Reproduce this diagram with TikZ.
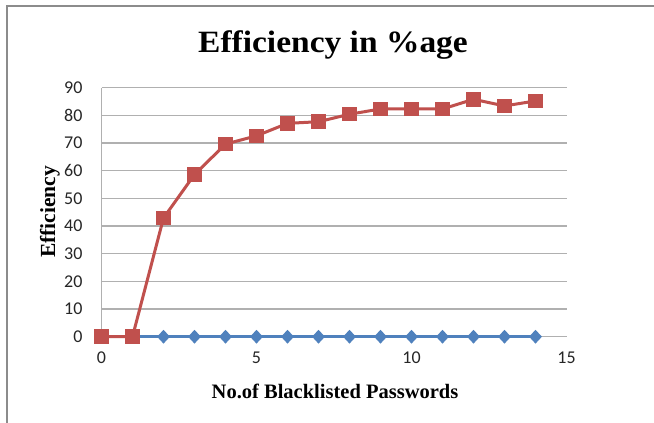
\documentclass[tikz,border=0pt]{standalone}
\usepackage{fontspec}
\setmainfont{Liberation Serif}
\newfontfamily\tickfont{Carlito}
\usetikzlibrary{shapes.geometric}
\definecolor{serA}{HTML}{4F81BD}
\definecolor{serB}{HTML}{C0504D}
\definecolor{gridc}{HTML}{B0B0B0}
\definecolor{framec}{HTML}{8C8C8C}
\tikzset{
  gridline/.style={draw=gridc, line width=1.3pt},
  sqmark/.style={rectangle, fill=serB, minimum size=14.5pt, inner sep=0pt},
  dmmark/.style={diamond, fill=serA, minimum width=13pt, minimum height=14pt, inner sep=0pt},
  ytick/.style={anchor=east, font=\tickfont\fontsize{18}{18}\selectfont, text=black!85},
  xtick/.style={anchor=center, font=\tickfont\fontsize{18}{18}\selectfont, text=black!85},
  titletxt/.style={font=\bfseries\fontsize{31}{31}\selectfont, xscale=1.08},
  axtitle/.style={font=\bfseries\fontsize{20.5}{20.5}\selectfont},
  aytitle/.style={font=\bfseries\fontsize{21.5}{21.5}\selectfont},
}
\begin{document}
\begin{tikzpicture}[x=1pt,y=-1pt]
\useasboundingbox (0,0) rectangle (654,423);
\fill[white] (0,0) rectangle (654,423);
\draw[framec, line width=2pt] (6.5,423) -- (6.5,5.5) -- (654,5.5);
\node[titletxt] (title) at (333,45) {Efficiency in \%age};
\node[aytitle, rotate=90] (ytitle) at (50,212) {Efficiency};
\node[axtitle] (xtitle) at (335,391) {No.of Blacklisted Passwords};
\begin{scope}[shift={(101.5,336.7)}, x=31pt, y=2.767pt]
  \foreach \v in {0,10,...,90} {
    \draw[gridline] (0,\v) -- (15,\v);
    \node[ytick] (yl\v) at (-0.5,\v) {\v};
  }
  \draw[gridline] (0,0) -- (0,90);
  \foreach \v in {0,5,10,15} {
    \node[xtick] (xl\v) at (\v,-7.6) {\v};
  }
  % blue series
  \foreach \i in {0,...,14} { \coordinate (b\i) at (\i,0); }
  \draw[serA, line width=3pt] (b0) -- (b14);
  \foreach \i in {0,...,14} { \node[dmmark] (bd\i) at (b\i) {}; }
  % red series
  \coordinate (r0) at (0,0);
  \coordinate (r1) at (1,0);
  \coordinate (r2) at (2,42.9);
  \coordinate (r3) at (3,58.6);
  \coordinate (r4) at (4,69.6);
  \coordinate (r5) at (5,72.6);
  \coordinate (r6) at (6,77.1);
  \coordinate (r7) at (7,77.7);
  \coordinate (r8) at (8,80.4);
  \coordinate (r9) at (9,82.3);
  \coordinate (r10) at (10,82.3);
  \coordinate (r11) at (11,82.3);
  \coordinate (r12) at (12,85.8);
  \coordinate (r13) at (13,83.4);
  \coordinate (r14) at (14,85.2);
  \draw[serB, line width=3pt, line join=round] (r0) -- (r1) -- (r2) -- (r3) -- (r4) -- (r5) -- (r6) -- (r7) -- (r8) -- (r9) -- (r10) -- (r11) -- (r12) -- (r13) -- (r14);
  \foreach \i in {0,...,14} { \node[sqmark] (rs\i) at (r\i) {}; }
\end{scope}
\end{tikzpicture}
\end{document}
